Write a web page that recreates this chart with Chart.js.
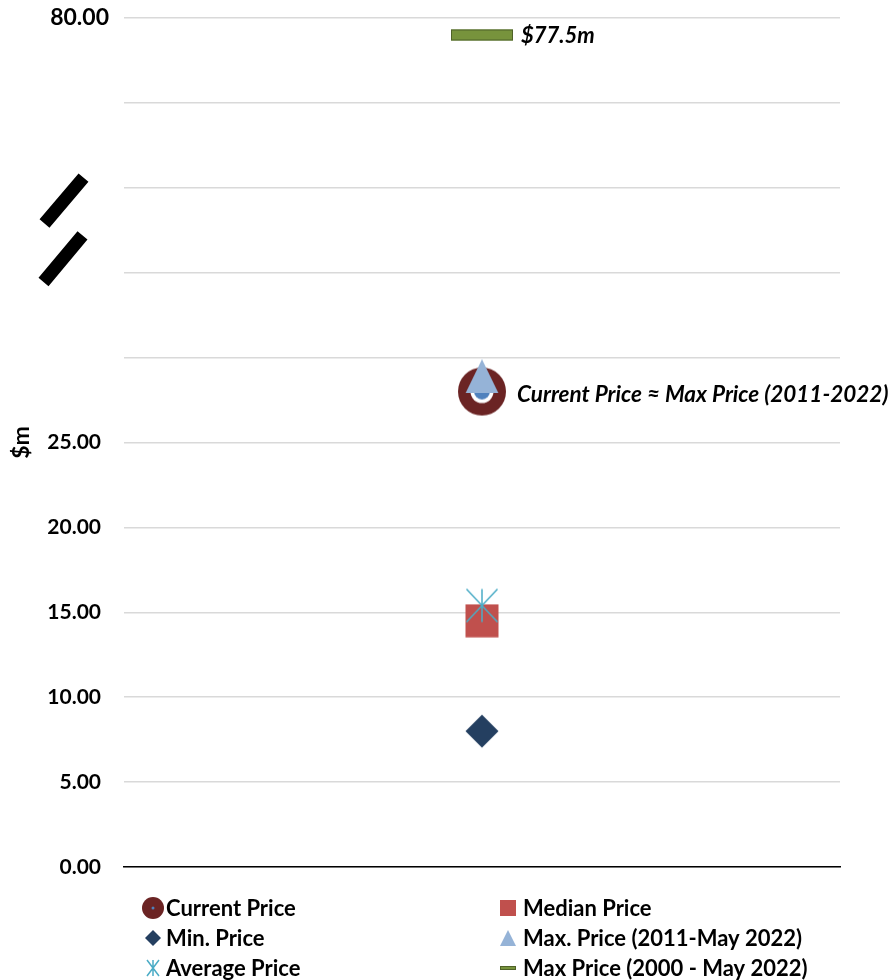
<!DOCTYPE html>
<html>
<head>
<meta charset="utf-8">
<script src="https://cdn.jsdelivr.net/npm/chart.js@4.4.1/dist/chart.umd.min.js"></script>
<style>
  html, body { margin: 0; padding: 0; background: #fff; }
  #wrap { width: 895px; height: 980px; }
</style>
</head>
<body>
<div id="wrap"><canvas id="myChart"></canvas></div>
<script>
// Values ($m)
const categories = [''];
const currentPrice = [28.0];
const medianPrice = [14.5];
const minPrice = [8.0];
const maxPrice2011 = [28.9];
const averagePrice = [15.4];
const maxPrice2000 = [77.5];

const seriesNames = ['Current Price', 'Median Price', 'Min. Price', 'Max. Price (2011-May 2022)', 'Average Price', 'Max Price (2000 - May 2022)'];
const yTickLabels = ['0.00', '5.00', '10.00', '15.00', '20.00', '25.00', '', '', '', '', '80.00'];
const maxLabel = '$77.5m';
const noteLabel = 'Current Price \u2248 Max Price (2011-2022)';

// broken axis: 0-30 drawn as is, 30-80 squeezed into 30-50
const breakFrom = 30, breakTo = 80, axisTop = 50;
function toAxis(v) {
    if (v <= breakFrom) return v;
    return breakFrom + (v - breakFrom) * (axisTop - breakFrom) / (breakTo - breakFrom);
}

const FONT = 'Lato, "Open Sans", sans-serif';

// Marker painters (used for points and for the legend)
function drawCurrent(ctx, x, y, r, big) {
    ctx.fillStyle = '#6B2424';
    ctx.beginPath(); ctx.arc(x, y, r, 0, Math.PI * 2); ctx.fill();
    if (big) {
        ctx.fillStyle = '#fff';
        ctx.beginPath(); ctx.arc(x, y, r * 0.48, 0, Math.PI * 2); ctx.fill();
        ctx.fillStyle = '#4F81BD';
        ctx.beginPath(); ctx.arc(x, y, r * 0.33, 0, Math.PI * 2); ctx.fill();
    } else {
        ctx.fillStyle = '#4F81BD';
        ctx.beginPath(); ctx.arc(x, y, 1.5, 0, Math.PI * 2); ctx.fill();
    }
}
function drawSquare(ctx, x, y, s) {
    ctx.fillStyle = '#C0504D';
    ctx.fillRect(x - s / 2, y - s / 2, s, s);
}
function drawDiamond(ctx, x, y, h) {
    ctx.fillStyle = '#243F60';
    ctx.beginPath();
    ctx.moveTo(x, y - h); ctx.lineTo(x + h, y); ctx.lineTo(x, y + h); ctx.lineTo(x - h, y);
    ctx.closePath(); ctx.fill();
}
function drawTriangle(ctx, x, y, w, h) {
    ctx.fillStyle = '#95B3D7';
    ctx.beginPath();
    ctx.moveTo(x, y - h / 2); ctx.lineTo(x + w / 2, y + h / 2); ctx.lineTo(x - w / 2, y + h / 2);
    ctx.closePath(); ctx.fill();
}
function drawStar(ctx, x, y, w, h, lw) {
    ctx.strokeStyle = '#4BACC6';
    ctx.lineWidth = lw;
    ctx.beginPath();
    ctx.moveTo(x, y - h); ctx.lineTo(x, y + h);
    ctx.moveTo(x - w, y - h); ctx.lineTo(x + w, y + h);
    ctx.moveTo(x + w, y - h); ctx.lineTo(x - w, y + h);
    ctx.stroke();
}
function drawBar(ctx, x, y, w, h) {
    ctx.fillStyle = '#77933C';
    ctx.fillRect(x - w / 2, y - h / 2, w, h);
    ctx.strokeStyle = '#4F6228';
    ctx.lineWidth = 1;
    ctx.strokeRect(x - w / 2 + 0.5, y - h / 2 + 0.5, w - 1, h - 1);
}

function makeMarker(w, h, paint) {
    const c = document.createElement('canvas');
    c.width = w; c.height = h;
    paint(c.getContext('2d'), w / 2, h / 2);
    return c;
}

const pointStyles = [
    makeMarker(50, 50, (c, x, y) => drawCurrent(c, x, y, 24, true)),
    makeMarker(34, 34, (c, x, y) => drawSquare(c, x, y, 33)),
    makeMarker(36, 36, (c, x, y) => drawDiamond(c, x, y, 16.5)),
    makeMarker(34, 34, (c, x, y) => drawTriangle(c, x, y, 33, 34)),
    makeMarker(36, 36, (c, x, y) => drawStar(c, x, y, 15.5, 16.5, 1.5)),
    makeMarker(64, 12, (c, x, y) => drawBar(c, x, y, 62, 11))
];
const legendPainters = [
    (c, x, y) => drawCurrent(c, x, y, 11, false),
    (c, x, y) => drawSquare(c, x, y, 16),
    (c, x, y) => drawDiamond(c, x, y, 8),
    (c, x, y) => drawTriangle(c, x, y, 16, 16),
    (c, x, y) => drawStar(c, x, y, 6, 8, 1.5),
    (c, x, y) => drawBar(c, x, y, 16, 4)
];

const seriesData = [currentPrice, medianPrice, minPrice, maxPrice2011, averagePrice, maxPrice2000];
const drawOrder = [2, 2, 1, 0, 0, 0]; // lower = on top

// Break marks, labels and the two-column legend
const extrasPlugin = {
    id: 'extras',
    afterDraw(chart) {
        const ctx = chart.ctx;
        const area = chart.chartArea;
        const y = chart.scales.y;
        ctx.save();

        // top label of the broken axis
        ctx.fillStyle = '#000';
        ctx.font = 'bold 23px ' + FONT;
        ctx.textAlign = 'right';
        ctx.textBaseline = 'middle';
        ctx.fillText(yTickLabels[yTickLabels.length - 1], area.left - 15, y.getPixelForValue(axisTop));

        // axis break symbol
        ctx.strokeStyle = '#000';
        ctx.lineWidth = 13;
        ctx.beginPath();
        ctx.moveTo(area.left - 40.5, y.getPixelForValue(40.6));
        ctx.lineTo(area.left - 79.5, y.getPixelForValue(37.9));
        ctx.moveTo(area.left - 41.5, y.getPixelForValue(37.2));
        ctx.lineTo(area.left - 80.5, y.getPixelForValue(34.45));
        ctx.stroke();

        // point annotations
        ctx.textAlign = 'left';
        ctx.font = 'italic bold 22px ' + FONT;
        const pMax = chart.getDatasetMeta(5).data[0];
        ctx.fillText(maxLabel, pMax.x + 39, pMax.y + 1);
        ctx.font = 'italic bold 22.5px ' + FONT;
        const pCur = chart.getDatasetMeta(0).data[0];
        ctx.fillText(noteLabel, pCur.x + 35, pCur.y + 3);

        // legend
        ctx.font = 'bold 22px ' + FONT;
        const cx = (area.left + area.right) / 2;
        const cols = [area.left + 29, cx + 26];
        seriesNames.forEach((name, i) => {
            const mx = cols[i % 2];
            const my = area.bottom + 41 + Math.floor(i / 2) * 30;
            legendPainters[i](ctx, mx, my);
            ctx.fillStyle = '#000';
            ctx.fillText(name, mx + (i % 2 ? 15 : 13), my + 1);
        });
        ctx.restore();
    }
};

const ctx = document.getElementById('myChart').getContext('2d');
const myChart = new Chart(ctx, {
    type: 'line',
    data: {
        labels: categories,
        datasets: seriesNames.map((name, i) => ({
            label: name,
            data: seriesData[i].map(toAxis),
            showLine: false,
            pointStyle: pointStyles[i],
            pointRadius: 5,
            pointHoverRadius: 5,
            order: drawOrder[i],
            clip: false
        }))
    },
    options: {
        responsive: true,
        maintainAspectRatio: false,
        animation: false,
        events: [],
        layout: { padding: { top: 18, right: 55, left: 0, bottom: 0 } },
        plugins: {
            legend: { display: false },
            tooltip: { enabled: false }
        },
        scales: {
            x: {
                type: 'category',
                offset: true,
                grid: { display: false },
                border: { display: true, color: '#000', width: 1.5 },
                ticks: { display: false },
                afterFit: (s) => { s.height = 113; }
            },
            y: {
                min: 0,
                max: axisTop,
                // invisible tick marks keep a 23px gap between labels and plot
                grid: { color: '#d9d9d9', lineWidth: 1.5, drawTicks: true, tickLength: 23, tickColor: 'rgba(0,0,0,0)' },
                border: { display: false },
                ticks: {
                    stepSize: 5,
                    padding: 0,
                    color: '#000',
                    font: { family: FONT, size: 21, weight: 'bold' },
                    callback: (value, index) => (value === axisTop ? '' : yTickLabels[index])
                },
                title: {
                    display: true,
                    text: '$m',
                    color: '#000',
                    font: { family: FONT, size: 23, weight: 'bold' },
                    padding: { top: 8, bottom: 0 }
                },
                afterFit: (s) => { s.width = 124; }
            }
        }
    },
    plugins: [extrasPlugin]
});
</script>
</body>
</html>
